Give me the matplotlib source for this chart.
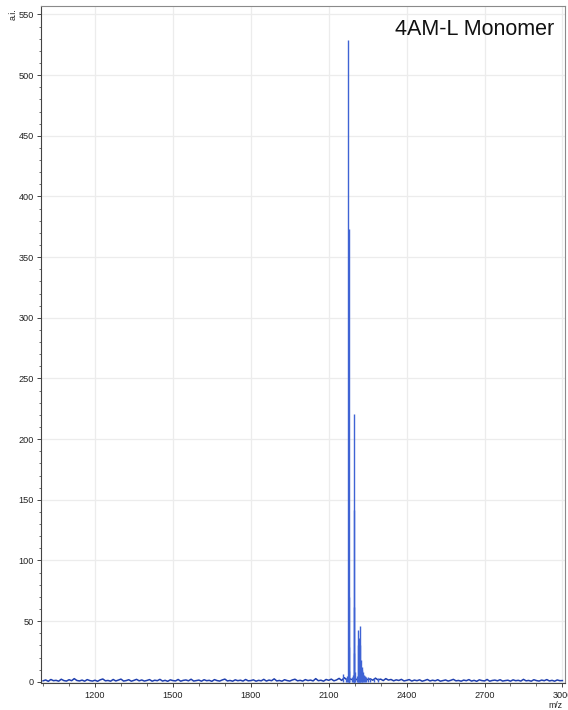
import numpy as np
import matplotlib
matplotlib.use("Agg")
import matplotlib.pyplot as plt
from matplotlib.ticker import MultipleLocator

plt.rcParams['font.family'] = ['Liberation Sans', 'DejaVu Sans']

# Baseline noise of the spectrum, sampled every 10 m/z from 1000 to 3000
noise_start, noise_step = 1000, 10
noise_int = [
    0.8, 1.5, 0.4, 1.9, 0.9, 1.2, 0.5, 2.1, 1.0, 0.6, 1.7, 0.9, 2.6, 1.1, 0.7, 1.4, 0.5, 1.8, 1.0, 0.6,
    1.3, 0.4, 1.6, 2.3, 0.8, 1.1, 0.5, 1.9, 0.7, 1.4, 2.2, 0.6, 1.0, 1.7, 0.5, 1.2, 2.0, 0.8, 1.5, 0.6,
    1.1, 1.8, 0.5, 1.3, 0.9, 2.0, 0.6, 1.2, 0.4, 1.6, 1.0, 0.7, 1.9, 0.5, 1.2, 1.5, 0.8, 2.1, 0.6, 1.0,
    1.4, 0.5, 1.7, 0.9, 1.2, 0.4, 1.8, 1.0, 0.6, 1.5, 2.2, 0.7, 1.1, 0.5, 1.6, 0.9, 1.3, 0.6, 1.9, 0.8,
    1.0, 1.6, 0.5, 1.2, 0.8, 2.0, 0.6, 1.4, 0.9, 2.4, 0.7, 1.1, 0.5, 1.7, 1.0, 0.6, 1.5, 2.1, 0.8, 1.2,
    0.6, 1.8, 1.0, 1.4, 0.7, 2.6, 0.9, 1.3, 0.5, 1.9, 1.2, 2.2, 0.8, 1.5, 2.8, 1.1, 3.4, 1.6, 2.5, 1.8,
    2.9, 1.5, 3.6, 2.0, 3.1, 1.7, 2.4, 1.3, 3.0, 1.5, 2.2, 1.0, 2.6, 1.4, 1.9, 0.8, 1.6, 1.1, 2.0, 0.7,
    1.2, 1.8, 0.6, 1.4, 0.9, 1.6, 0.5, 1.1, 1.9, 0.7, 1.3, 0.8, 1.7, 0.5, 1.0, 1.5, 0.6, 1.2, 2.0, 0.8,
    1.1, 0.5, 1.4, 0.9, 1.8, 0.6, 1.2, 0.4, 1.6, 1.0, 0.7, 1.9, 0.5, 1.1, 1.4, 0.8, 1.7, 0.6, 1.0, 1.3,
    0.5, 1.6, 0.9, 1.2, 0.6, 2.0, 0.8, 1.1, 0.5, 1.7, 1.0, 0.6, 1.4, 0.9, 1.8, 0.7, 1.2, 0.5, 1.5, 0.9,
    1.0,
]

# Resolved peaks (m/z, intensity) of the monomer isotope/adduct cluster
peak_mz = [2155, 2168, 2171, 2176, 2177, 2178, 2179, 2180, 2188, 2193,
           2196, 2197, 2198, 2199, 2200, 2208, 2211, 2213, 2215, 2217,
           2219, 2221, 2224, 2227, 2230, 2233, 2236, 2240, 2245, 2252,
           2260, 2275, 2290]
peak_int = [6.5, 3.5, 5, 529, 373, 70, 29, 9, 4, 6,
            221, 142, 62, 24, 8, 5, 30, 43, 36, 28,
            46, 30, 18, 10, 12, 8, 6, 5, 4, 4,
            3.5, 3, 3]

x_ticks = [1200, 1500, 1800, 2100, 2400, 2700, 3000]
y_ticks = [0, 50, 100, 150, 200, 250, 300, 350, 400, 450, 500, 550]

title_text = "4AM-L Monomer"

W, H = 568, 710
fig = plt.figure(figsize=(W / 100, H / 100), dpi=100)
ax = fig.add_axes([41 / W, 1 - 683 / H, (565 - 41) / W, (683 - 6) / H])

noise_mz = noise_start + noise_step * np.arange(len(noise_int))
ax.plot(noise_mz, noise_int, color='#1f3fae', lw=1.1, zorder=3)
ax.vlines(peak_mz, 0, peak_int, colors='#3f63d4', lw=1.0, zorder=4)

ax.set_xlim(992, 3010)
ax.set_ylim(-1, 557)

ax.set_xticks(x_ticks)
ax.set_yticks(y_ticks)
ax.xaxis.set_minor_locator(MultipleLocator(100))
ax.yaxis.set_minor_locator(MultipleLocator(10))

ax.grid(True, which='major', color='#ececec', lw=0.9, zorder=0)
ax.set_axisbelow(True)

ax.tick_params(axis='both', which='major', direction='out', length=3.2,
               width=0.7, colors='#444444', labelsize=6.6, labelcolor='#222222')
ax.tick_params(axis='y', which='major', pad=2)
ax.tick_params(axis='x', which='major', pad=2.5)
ax.tick_params(axis='both', which='minor', direction='out', length=1.8,
               width=0.6, colors='#555555')

for side in ['top', 'right']:
    ax.spines[side].set_color('#8a8a8a')
    ax.spines[side].set_linewidth(0.8)
for side in ['left', 'bottom']:
    ax.spines[side].set_color('#444444')
    ax.spines[side].set_linewidth(0.8)

ax.text(0.979, 0.957, title_text, transform=ax.transAxes, ha='right',
        va='baseline', fontsize=15.5, color='#111111')

fig.text(13 / W, 1 - 14 / H, "a.i.", rotation=90, ha='center', va='center',
         fontsize=6.3, color='#222222')
fig.text(555 / W, 1 - 705.5 / H, "m/z", ha='center', va='center',
         fontsize=6.3, color='#222222')

fig.savefig("out.png", dpi=100)
